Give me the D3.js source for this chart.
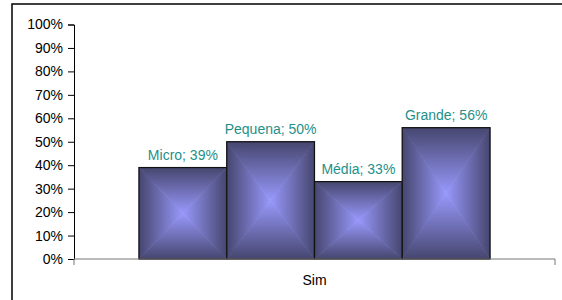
<!DOCTYPE html>
<html><head><meta charset="utf-8">
<script src="https://cdn.jsdelivr.net/npm/d3@7"></script>
<style>html,body{margin:0;padding:0;background:#fff;}svg{display:block;}</style>
</head><body>
<svg id="c" width="562" height="300"></svg>
<script>
const group = ["Sim"];
const categories = ["Micro", "Pequena", "Média", "Grande"];
const values = [0.39, 0.50, 0.33, 0.56];
const yTicks = [0,0.1,0.2,0.3,0.4,0.5,0.6,0.7,0.8,0.9,1.0];

const svg = d3.select("#c");
const font = "'Liberation Sans', Arial, Helvetica, sans-serif";
const m = {l:74, r:555, t:24.5, b:259};

svg.append("rect").attr("x",12).attr("y",4).attr("width",600).attr("height",400)
  .attr("fill","#fff").attr("stroke","#000").attr("stroke-width",1.5);

const y = d3.scaleLinear().domain([0,1]).range([m.b,m.t]);
const x0 = d3.scaleBand().domain(group).range([m.l,m.r]).paddingInner(0).paddingOuter(0);
const bandW = x0.bandwidth();
const inner = 351;
const x1 = d3.scaleBand().domain(categories)
  .range([x0("Sim") + (bandW-inner)/2, x0("Sim") + (bandW+inner)/2]).padding(0);

const defs = svg.append("defs");
const edge = "#46466f", center = "#9898fc";
function lg(id, x1_, y1_, x2_, y2_){
  const g = defs.append("linearGradient").attr("id",id)
    .attr("x1",x1_).attr("y1",y1_).attr("x2",x2_).attr("y2",y2_);
  g.append("stop").attr("offset","0").attr("stop-color",edge);
  g.append("stop").attr("offset","1").attr("stop-color",center);
}
lg("gT",0,0,0,1); lg("gB",0,1,0,0); lg("gL",0,0,1,0); lg("gR",1,0,0,0);

const bars = svg.append("g");
categories.forEach((c,i)=>{
  const bx = x1(c), bw = x1.bandwidth(), by = y(values[i]), bh = y(0)-y(values[i]);
  const cx = bx+bw/2, cy = by+bh/2;
  const g = bars.append("g");
  const p = (pts)=> pts.map(q=>q.join(",")).join(" ");
  const tri = (pts, id)=> g.append("polygon").attr("points",p(pts))
    .attr("fill",`url(#${id})`).attr("stroke",`url(#${id})`).attr("stroke-width",0.8)
    .attr("stroke-linejoin","round");
  tri([[bx,by],[bx+bw,by],[cx,cy]],"gT");
  tri([[bx,by+bh],[bx+bw,by+bh],[cx,cy]],"gB");
  tri([[bx,by],[bx,by+bh],[cx,cy]],"gL");
  tri([[bx+bw,by],[bx+bw,by+bh],[cx,cy]],"gR");
  g.append("rect").attr("x",bx).attr("y",by).attr("width",bw).attr("height",bh)
    .attr("fill","none").attr("stroke","#111").attr("stroke-width",1.2);
  svg.append("text").attr("x",cx).attr("y",by-8).attr("text-anchor","middle")
    .attr("font-family",font).attr("font-size",14).attr("fill","#1f8f8a")
    .text(c + "; " + Math.round(values[i]*100) + "%");
});

// y axis
const yAxis = d3.axisLeft(y).tickValues(yTicks).tickSize(6).tickPadding(5)
  .tickFormat(d=>Math.round(d*100)+"%");
const ya = svg.append("g").attr("transform",`translate(${m.l},0)`).call(yAxis);
ya.select(".domain").attr("stroke","#000");
ya.selectAll(".tick line").attr("stroke","#000");
ya.selectAll("text").attr("font-family",font).attr("font-size",14).attr("fill","#000");

// x axis
const xAxis = d3.axisBottom(x0).tickSize(0).tickPadding(16);
const xa = svg.append("g").attr("transform",`translate(0,${m.b})`).call(xAxis);
xa.select(".domain").attr("stroke","#777").attr("d",`M${m.l},0H${m.r}`);
xa.selectAll("text").attr("font-family",font).attr("font-size",14).attr("fill","#000");
[m.l, m.r].forEach(px=>xa.append("line").attr("x1",px).attr("x2",px).attr("y1",0).attr("y2",6).attr("stroke","#777"));
</script>
</body></html>
